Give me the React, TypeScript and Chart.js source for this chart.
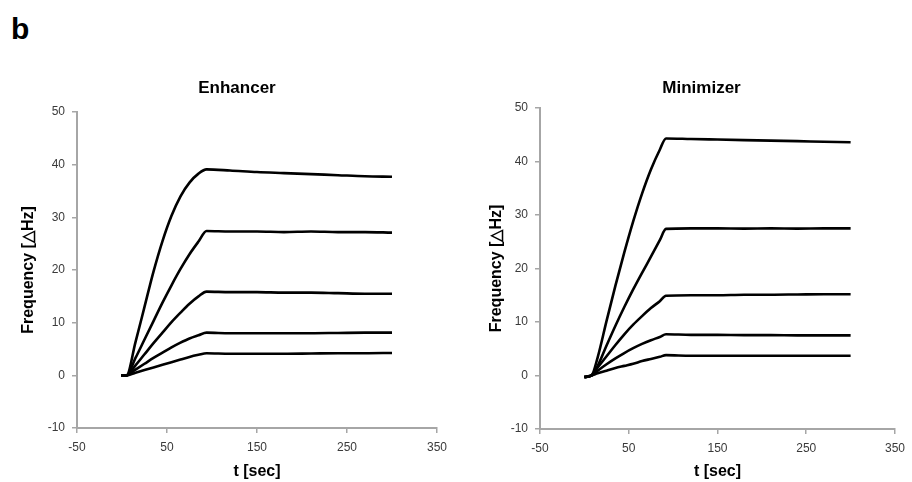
import React, { useEffect, useRef } from "react";
import { Chart, registerables } from "chart.js";

Chart.register(...registerables);

// ---------------- data ----------------
const enhancerTime = [-1, 5, 15, 25, 35, 45, 55, 65, 75, 85, 94, 120, 150, 180, 210, 240, 270, 300];
const enhancer1 = [0, 0, 6.3, 13.0, 19.7, 25.5, 30.3, 34.0, 36.6, 38.3, 39.1, 38.9, 38.6, 38.4, 38.2, 38.0, 37.8, 37.7];
const enhancer2 = [0, 0, 3.3, 6.8, 10.3, 13.8, 17.1, 20.2, 23.0, 25.4, 27.4, 27.3, 27.3, 27.2, 27.3, 27.2, 27.2, 27.1];
const enhancer3 = [0, 0, 1.9, 4.0, 6.1, 8.1, 10.1, 11.9, 13.6, 15.0, 15.9, 15.8, 15.8, 15.7, 15.7, 15.6, 15.5, 15.5];
const enhancer4 = [0, 0, 1.1, 2.2, 3.3, 4.3, 5.3, 6.2, 7.0, 7.6, 8.1, 8.0, 8.0, 8.0, 8.0, 8.05, 8.1, 8.1];
const enhancer5 = [0, 0, 0.5, 1.0, 1.5, 2.0, 2.5, 3.0, 3.5, 3.9, 4.2, 4.1, 4.1, 4.1, 4.15, 4.2, 4.2, 4.25];

const minimizerTime = [0, 8, 15, 25, 35, 45, 55, 65, 75, 85, 92, 120, 150, 180, 210, 240, 270, 300];
const minimizer1 = [-0.3, 0, 3.4, 10.2, 16.8, 23.0, 28.8, 34.0, 38.5, 42.2, 44.3, 44.2, 44.1, 44.0, 43.9, 43.8, 43.7, 43.6];
const minimizer2 = [-0.3, 0, 1.8, 5.6, 9.3, 12.8, 16.1, 19.2, 22.2, 25.3, 27.4, 27.5, 27.5, 27.45, 27.5, 27.45, 27.5, 27.5];
const minimizer3 = [-0.3, 0, 1.5, 3.6, 5.7, 7.7, 9.5, 11.1, 12.6, 13.9, 14.9, 15.0, 15.0, 15.1, 15.1, 15.15, 15.2, 15.2];
const minimizer4 = [-0.3, 0, 0.9, 2.1, 3.2, 4.2, 5.1, 5.9, 6.6, 7.2, 7.7, 7.6, 7.6, 7.55, 7.55, 7.5, 7.5, 7.5];
const minimizer5 = [-0.3, 0, 0.4, 0.9, 1.4, 1.8, 2.2, 2.7, 3.1, 3.5, 3.8, 3.7, 3.7, 3.7, 3.7, 3.7, 3.7, 3.7];

const xRange = [-50, 350];
const xStep = 100;
const yRange = [-10, 50];
const yStep = 10;

const panelLabel = "b";
const enhancerTitle = "Enhancer";
const minimizerTitle = "Minimizer";
const yAxisTitle = "Frequency [\u25B3Hz]";
const xAxisTitle = "t [sec]";

// ---------------- chart ----------------
const FONT = "'Liberation Sans', Arial, Helvetica, sans-serif";
const AXIS_GRAY = "#a6a6a6";
const LABEL_GRAY = "#3a3a3a";

type Layout = {
  left: number;
  width: number;
  padLeft: number;
  padRight: number;
  yWidth: number;
  xHeight: number;
  titlePadTop: number;
  titlePadBottom: number;
  yTitlePad: number;
};

function Panel(props: { title: string; time: number[]; series: number[][]; layout: Layout }) {
  const ref = useRef<HTMLCanvasElement>(null);
  const { title, time, series, layout } = props;

  useEffect(() => {
    const canvas = ref.current;
    if (!canvas) return;
    const datasets = series.map((vals) => ({
      data: vals.map((v, i) => ({ x: time[i], y: v })),
      borderColor: "#000000",
      backgroundColor: "#000000",
      borderWidth: 2.6,
      pointRadius: 0,
      fill: false,
      showLine: true,
      cubicInterpolationMode: "monotone" as const,
    }));

    const chart = new Chart(canvas, {
      type: "scatter",
      data: { datasets },
      options: {
        animation: false,
        responsive: false,
        maintainAspectRatio: false,
        devicePixelRatio: 1,
        layout: {
          padding: { left: layout.padLeft, right: layout.padRight, top: 0, bottom: 0 },
        },
        plugins: {
          legend: { display: false },
          tooltip: { enabled: false },
          title: {
            display: true,
            text: title,
            color: "#000000",
            font: { family: FONT, size: 17, weight: "bold" },
            padding: { top: layout.titlePadTop, bottom: layout.titlePadBottom },
          },
        },
        scales: {
          x: {
            type: "linear",
            min: xRange[0],
            max: xRange[1],
            afterFit: (scale: any) => {
              scale.height = layout.xHeight;
            },
            ticks: {
              stepSize: xStep,
              color: LABEL_GRAY,
              font: { family: FONT, size: 12 },
              padding: 7,
              maxRotation: 0,
            },
            grid: {
              drawOnChartArea: false,
              drawTicks: true,
              tickLength: 5,
              color: AXIS_GRAY,
              lineWidth: 1.5,
            },
            border: { display: true, color: AXIS_GRAY, width: 2 },
            title: {
              display: true,
              text: xAxisTitle,
              color: "#000000",
              font: { family: FONT, size: 16, weight: "bold" },
              padding: { top: 0, bottom: 1 },
            },
          },
          y: {
            type: "linear",
            min: yRange[0],
            max: yRange[1],
            afterFit: (scale: any) => {
              scale.width = layout.yWidth;
            },
            ticks: {
              stepSize: yStep,
              color: LABEL_GRAY,
              font: { family: FONT, size: 12 },
              padding: 7,
            },
            grid: {
              drawOnChartArea: false,
              drawTicks: true,
              tickLength: 5,
              color: AXIS_GRAY,
              lineWidth: 1.5,
            },
            border: { display: true, color: AXIS_GRAY, width: 2 },
            title: {
              display: true,
              text: yAxisTitle,
              color: "#000000",
              font: { family: FONT, size: 16, weight: "bold" },
              padding: { top: layout.yTitlePad, bottom: 0 },
            },
          },
        },
      },
    } as any);
    return () => chart.destroy();
  }, []);

  return (
    <canvas
      ref={ref}
      width={layout.width}
      height={482}
      style={{ position: "absolute", left: layout.left, top: 0, width: layout.width, height: 482, display: "block" }}
    />
  );
}

const leftLayout: Layout = {
  left: 0,
  width: 474,
  padLeft: 37,
  padRight: 37,
  yWidth: 40,
  xHeight: 54,
  titlePadTop: 78.5,
  titlePadBottom: 13.1,
  yTitlePad: -18.2,
};

const rightLayout: Layout = {
  left: 470,
  width: 442,
  padLeft: 31,
  padRight: 10,
  yWidth: 39,
  xHeight: 53,
  titlePadTop: 78.5,
  titlePadBottom: 9.1,
  yTitlePad: -14.2,
};

export default function App() {
  return (
    <div
      style={{
        position: "fixed",
        left: 0,
        top: 0,
        width: 912,
        height: 482,
        background: "#ffffff",
        overflow: "hidden",
      }}
    >
      <div
        style={{
          position: "absolute",
          left: 11,
          top: 14,
          fontFamily: FONT,
          fontWeight: "bold",
          fontSize: 30,
          lineHeight: "30px",
          color: "#000000",
        }}
      >
        {panelLabel}
      </div>
      <Panel
        title={enhancerTitle}
        time={enhancerTime}
        series={[enhancer1, enhancer2, enhancer3, enhancer4, enhancer5]}
        layout={leftLayout}
      />
      <Panel
        title={minimizerTitle}
        time={minimizerTime}
        series={[minimizer1, minimizer2, minimizer3, minimizer4, minimizer5]}
        layout={rightLayout}
      />
    </div>
  );
}
